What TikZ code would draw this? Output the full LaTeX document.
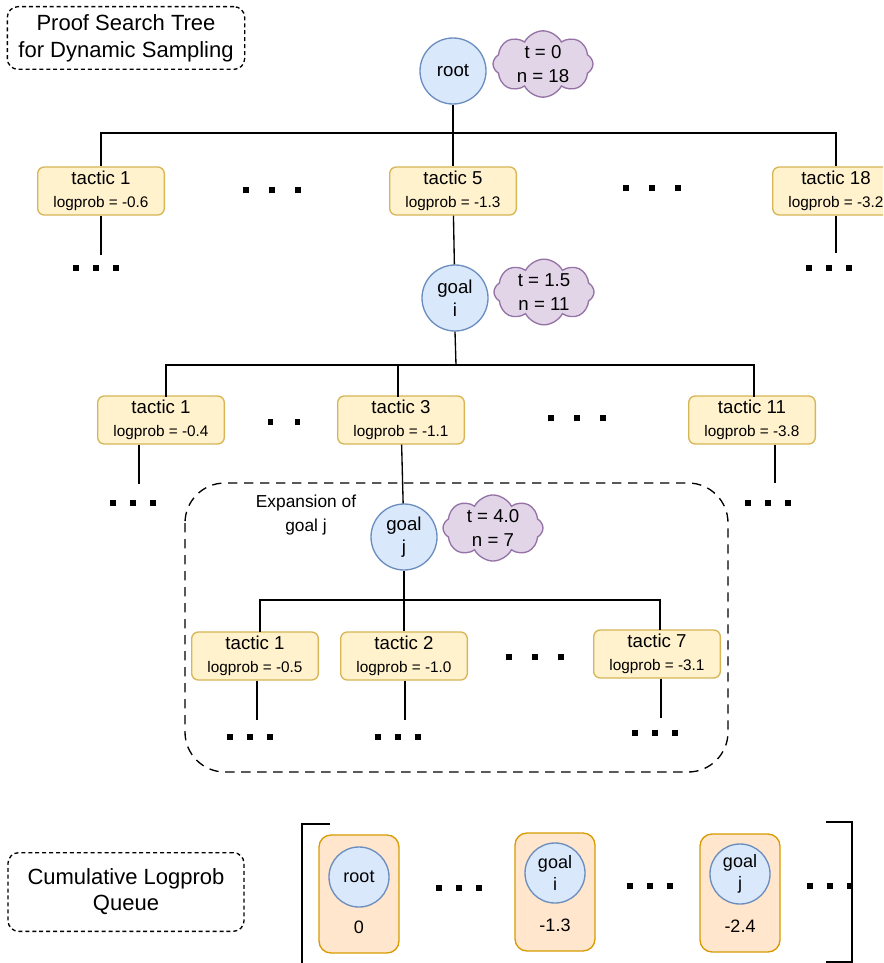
\documentclass[tikz,border=0pt]{standalone}
\usepackage{fontspec}
\setmainfont{Liberation Sans}
\usetikzlibrary{positioning,shapes.symbols}

\definecolor{goalfill}{HTML}{DAE8FC}
\definecolor{goaldraw}{HTML}{6C8EBF}
\definecolor{tacfill}{HTML}{FFF2CC}
\definecolor{tacdraw}{HTML}{D6B656}
\definecolor{statfill}{HTML}{E1D5E7}
\definecolor{statdraw}{HTML}{9673A6}
\definecolor{qfill}{HTML}{FFE6CC}
\definecolor{qdraw}{HTML}{D79B00}

% square dots used for the elided children
\newcommand{\sqdot}[1]{\rule{#1}{#1}}
\newcommand{\bigdots}{\sqdot{5pt}\hspace{14.5pt}\sqdot{5pt}\hspace{14.5pt}\sqdot{5pt}}
\newcommand{\smalldots}{\sqdot{4pt}\hspace{11pt}\sqdot{4pt}\hspace{11pt}\sqdot{4pt}}
\newcommand{\twodots}{\sqdot{4pt}\hspace{16pt}\sqdot{4pt}}
\newcommand{\tac}[2]{tactic #1\\[1pt]{\fontsize{11.5}{13}\selectfont logprob = #2}}

\begin{document}
\begin{tikzpicture}[x=0.75pt,y=-0.75pt,line width=1pt,
  goal/.style={circle,draw=goaldraw,fill=goalfill,minimum size=49.5pt,inner sep=0pt,
               align=center,font=\fontsize{14}{17}\selectfont},
  stat/.style={cloud,cloud puffs=8,cloud puff arc=125,aspect=1.55,draw=statdraw,fill=statfill,
               minimum width=75pt,minimum height=48pt,inner sep=0pt,align=center,
               font=\fontsize{14}{17.5}\selectfont},
  tactic/.style={draw=tacdraw,fill=tacfill,rounded corners=5pt,minimum width=95pt,
                 minimum height=36pt,inner sep=1pt,align=center,font=\fontsize{14}{16}\selectfont},
  label/.style={draw,dashed,dash pattern=on 3pt off 2.2pt,rounded corners=8pt,align=center},
  elide/.style={inner sep=0pt},
  qbox/.style={draw=qdraw,fill=qfill,rounded corners=9pt,minimum width=60pt,minimum height=88.5pt},
  qgoal/.style={circle,draw=goaldraw,fill=goalfill,minimum size=45pt,inner sep=0pt,
                align=center,font=\fontsize{13.5}{16}\selectfont},
  qval/.style={font=\fontsize{13.5}{16}\selectfont}]
\clip (0,0) rectangle (883,963);
\useasboundingbox (0,0) rectangle (883,963);

% labels
\node[label,minimum width=178pt,minimum height=47pt,font=\fontsize{16.5}{20}\selectfont]
  (title) at (126,38) {Proof Search Tree\\for Dynamic Sampling};
\node[label,minimum width=177pt,minimum height=59pt,font=\fontsize{16.5}{19.5}\selectfont]
  (qlabel) at (126,892) {Cumulative Logprob\\Queue};

% level 0
\node[goal] (root) at (453,71) {root};
\node[stat] (s0) at (543,64) {t = 0\\n = 18};
\coordinate (bus0) at (453,133);
\node[tactic] (a1)  at (101,191) {\tac{1}{-0.6}};
\node[tactic] (a5)  at (453,191) {\tac{5}{-1.3}};
\node[tactic] (a18) at (836,191) {\tac{18}{-3.2}};
\node[elide] (d01) at (272,190) {\bigdots};
\node[elide] (d02) at (652,188) {\bigdots};
\coordinate (e1) at (101,255);
\coordinate (e18) at (836,253);
\node[elide] (d03) at (96,268) {\smalldots};
\node[elide] (d04) at (829,268) {\smalldots};

\draw (a1.north) |- (bus0) -| (a18.north);
\draw (root) -- (a5);
\draw (a1.south) -- (e1);
\draw (a18.south) -- (e18);

% level 1
\node[goal] (gi) at (455,298) {goal\\i};
\node[stat] (s1) at (544,292) {t = 1.5\\n = 11};
\coordinate (bus1) at (456,365);
\node[tactic] (b1)  at (161,420) {\tac{1}{-0.4}};
\node[tactic] (b3)  at (401,420) {\tac{3}{-1.1}};
\node[tactic] (b11) at (752,420) {\tac{11}{-3.8}};
\node[elide] (d11) at (284,422) {\twodots};
\node[elide] (d12) at (577,418) {\bigdots};
\coordinate (f1) at (139,484);
\coordinate (f11) at (775,483);
\node[elide] (d13) at (133,503) {\smalldots};
\node[elide] (d14) at (768,503) {\smalldots};

\draw (a5) -- (gi);
\draw (166,397) |- (bus1) -| (754,397);
\draw (gi.south) -- (bus1);
\draw (398,365) -- (398,397);
\draw (b1.south -| f1) -- (f1);
\draw (b11.south -| f11) -- (f11);

% expansion of goal j
\draw[dashed,dash pattern=on 7pt off 5pt,rounded corners=30pt] (185,483) rectangle (728,772);
\node[align=center,font=\fontsize{13}{18}\selectfont] (exp) at (306,515) {Expansion of\\goal j};
\node[goal] (gj) at (404,537) {goal\\j};
\node[stat] (s2) at (493,528) {t = 4.0\\n = 7};
\coordinate (bus2) at (404,600);
\node[tactic] (c1) at (255,656) {\tac{1}{-0.5}};
\node[tactic] (c2) at (404,656) {\tac{2}{-1.0}};
\node[tactic] (c7) at (657,654) {\tac{7}{-3.1}};
\node[elide] (d21) at (535,657) {\bigdots};
\coordinate (g1) at (257,720);
\coordinate (g2) at (405,720);
\coordinate (g7) at (661,718);
\node[elide] (d22) at (250,737) {\smalldots};
\node[elide] (d23) at (398,737) {\smalldots};
\node[elide] (d24) at (655,733) {\smalldots};

\draw (b3) -- (gj);
\draw (gj) -- (c2);
\draw (260,632) |- (bus2) -| (660,630);
\draw (c1.south -| g1) -- (g1);
\draw (c2.south -| g2) -- (g2);
\draw (c7.south -| g7) -- (g7);

% queue
\draw[line width=1.2pt] (330,824) -- (302,824) -- (302,964) -- (330,964);
\draw[line width=1.2pt] (826,822) -- (852,822) -- (852,962) -- (826,962);
\node[qbox] (q0) at (359,894) {};
\node[qgoal] (q0g) at (359,877) {root};
\node[qval] (q0v) at (359,927) {0};
\node[qbox] (q1) at (555,892) {};
\node[qgoal] (q1g) at (555,873) {goal\\i};
\node[qval] (q1v) at (555,925) {-1.3};
\node[qbox] (q2) at (740,893) {};
\node[qgoal] (q2g) at (740,874) {goal\\j};
\node[qval] (q2v) at (740,926) {-2.4};
\node[elide] (d31) at (459,888) {\smalldots};
\node[elide] (d32) at (650,886) {\smalldots};
\node[elide] (d33) at (830,886) {\smalldots};
\end{tikzpicture}
\end{document}
